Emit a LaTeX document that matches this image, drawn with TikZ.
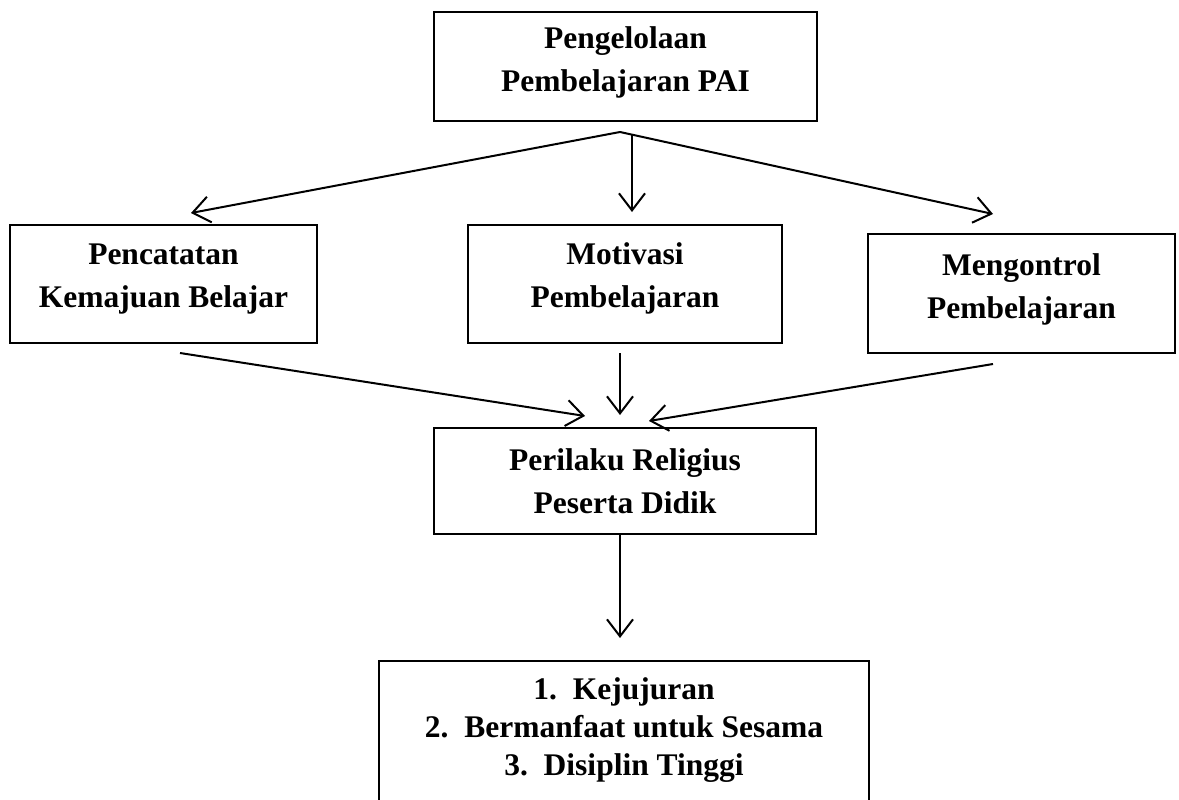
\documentclass[tikz,border=0pt]{standalone}
\usepackage{fontspec}
\setmainfont{Liberation Serif}
\usetikzlibrary{arrows.meta}
\newcommand{\liftup}[1]{\rule[-#1]{0pt}{#1}}
\begin{document}
\begin{tikzpicture}[x=1pt,y=-1pt,
  box/.style={draw, line width=2pt, align=center, inner sep=0pt,
    font=\fontsize{31.5}{43}\selectfont\bfseries},
  listbox/.style={box, font=\fontsize{31.5}{38}\selectfont\bfseries},
  arr/.style={line width=2pt, -{Straight Barb[length=17pt,width=26pt,line width=2pt]}}]
\useasboundingbox (0,0) rectangle (1179,800);
\clip (0,0) rectangle (1179,800);
\fill[white] (0,0) rectangle (1179,800);

\node[box, minimum width=383pt, minimum height=109pt] (top) at (625.5,66.5)
  {Pengelolaan\\Pembelajaran PAI\liftup{14pt}};
\node[box, minimum width=307pt, minimum height=118pt] (left) at (163.5,284)
  {Pencatatan\\Kemajuan Belajar\liftup{17pt}};
\node[box, minimum width=314pt, minimum height=118pt] (mid) at (625,284)
  {Motivasi\\Pembelajaran\liftup{18pt}};
\node[box, minimum width=307pt, minimum height=119pt] (right) at (1021.5,293.5)
  {Mengontrol\\Pembelajaran\liftup{15pt}};
\node[box, minimum width=382pt, minimum height=106pt] (beh) at (625,481)
  {Perilaku Religius\\Peserta Didik};
\node[listbox, minimum width=490pt, minimum height=146pt] (res) at (624,734)
  {1.~~Kejujuran\\2.~~Bermanfaat untuk Sesama\\3.~~Disiplin Tinggi\liftup{14pt}};

\coordinate (split) at (620,132);
\coordinate (tL) at (191,213);
\coordinate (tR) at (993,214);
\coordinate (m1) at (632,134);
\coordinate (m2) at (632,212);
\draw[arr] (split) -- (tL);
\draw[arr] (split) -- (tR);
\draw[arr] (m1) -- (m2);

\coordinate (a1) at (180,353);
\coordinate (a1e) at (585,416);
\coordinate (a2) at (620,353);
\coordinate (a2e) at (620,415);
\coordinate (a3) at (993,364);
\coordinate (a3e) at (649,421);
\draw[arr] (a1) -- (a1e);
\draw[arr] (a2) -- (a2e);
\draw[arr] (a3) -- (a3e);

\coordinate (d1) at (620,638);
\draw[arr] (beh.south -| d1) -- (d1);
\end{tikzpicture}
\end{document}
